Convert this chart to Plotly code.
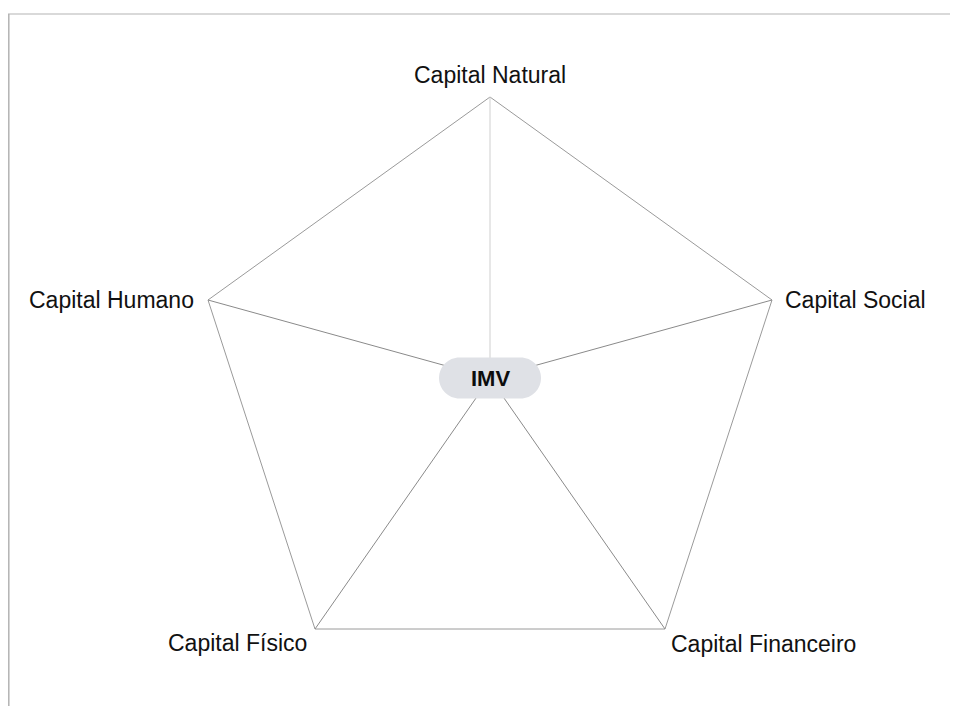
import plotly.graph_objects as go

# ---- data ----
center_label = "IMV"
center_x = 490
center_y = 378
nodes = ["Capital Natural", "Capital Social", "Capital Financeiro", "Capital Físico", "Capital Humano"]
node_x = [490, 772, 665, 315, 208]
node_y = [97, 300, 629, 629, 300]
# label placement
label_x = [490, 783, 763, 237.5, 196]
label_y = [75, 300, 644, 643, 300]
label_anchor = ["center", "left", "center", "center", "right"]
spoke_colors = ["#cfcfcf", "#8a8a8a", "#8a8a8a", "#8a8a8a", "#8a8a8a"]

W, H = 958, 706
OFF = 8  # page body margin
FONT = "Liberation Sans, Arial, sans-serif"

fig = go.Figure()

# pentagon outline
fig.add_trace(go.Scatter(
    x=node_x + [node_x[0]], y=node_y + [node_y[0]],
    mode="lines", line=dict(color="#9a9a9a", width=1),
    hoverinfo="skip", showlegend=False))

# spokes
for nx, ny, c in zip(node_x, node_y, spoke_colors):
    fig.add_trace(go.Scatter(
        x=[center_x, nx], y=[center_y, ny], mode="lines",
        line=dict(color=c, width=1), hoverinfo="skip", showlegend=False))

# pill around center
pw, ph = 102, 41
r = ph / 2
x0, x1 = center_x - pw / 2 + r, center_x + pw / 2 - r
y0, y1 = center_y - r, center_y + r
k = 0.5523 * r
path = (f"M {x0},{y0} L {x1},{y0} "
        f"C {x1 + k},{y0} {x1 + r},{center_y - k} {x1 + r},{center_y} "
        f"C {x1 + r},{center_y + k} {x1 + k},{y1} {x1},{y1} "
        f"L {x0},{y1} "
        f"C {x0 - k},{y1} {x0 - r},{center_y + k} {x0 - r},{center_y} "
        f"C {x0 - r},{center_y - k} {x0 - k},{y0} {x0},{y0} Z")
shapes = [
    dict(type="path", path=path, xref="x", yref="y",
         fillcolor="#dfe1e6", line=dict(width=0), layer="above"),
    dict(type="line", xref="x", yref="y", x0=8, x1=W, y0=14, y1=14,
         line=dict(color="#cccccc", width=1.5)),
    dict(type="line", xref="x", yref="y", x0=8.8, x1=8.8, y0=14, y1=H,
         line=dict(color="#b3b3b3", width=1.5)),
]

annotations = [dict(x=center_x, y=center_y, text="<b>" + center_label + "</b>",
                    showarrow=False, xanchor="center", yanchor="middle",
                    font=dict(family=FONT, size=22, color="#0d0d0d"))]
for t, lx, ly, a in zip(nodes, label_x, label_y, label_anchor):
    annotations.append(dict(x=lx, y=ly, text=t, showarrow=False,
                            xanchor=a, yanchor="middle",
                            font=dict(family=FONT, size=23, color="#111111")))

fig.update_layout(
    width=W - OFF, height=H - OFF,
    margin=dict(l=0, r=0, t=0, b=0),
    paper_bgcolor="white", plot_bgcolor="white",
    xaxis=dict(range=[OFF, W], visible=False, fixedrange=True),
    yaxis=dict(range=[H, OFF], visible=False, fixedrange=True),
    shapes=shapes, annotations=annotations,
)

fig.write_html("out.html")
